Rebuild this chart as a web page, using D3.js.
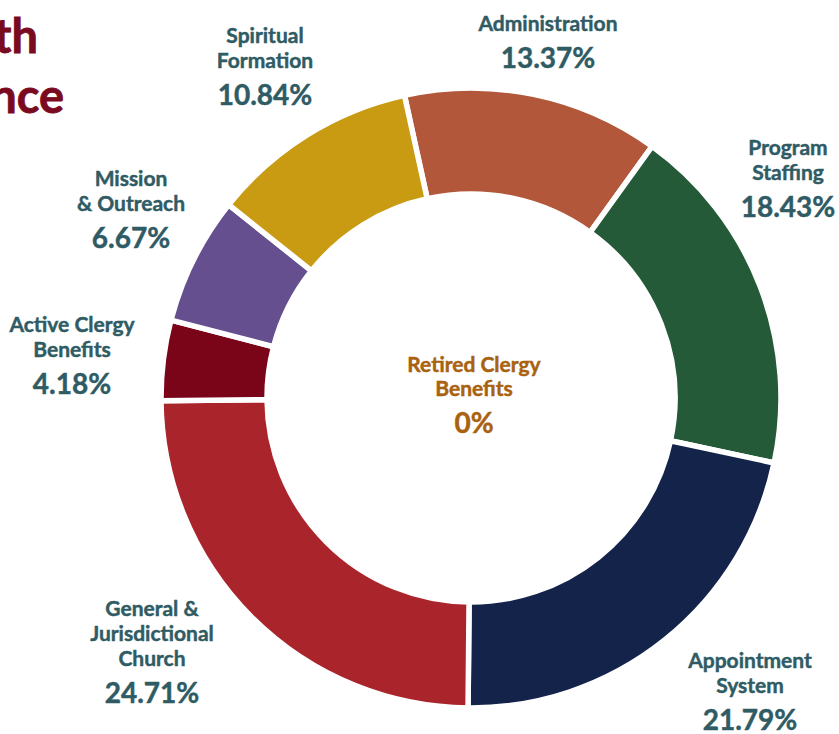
<!DOCTYPE html>
<html lang="en-US">
<head>
  <meta charset="UTF-8"/>
  <title>Budget share donut</title>
  <style>
    body { margin: 0; background: #fff; }
    svg text { font-family: Lato, "Open Sans", sans-serif; font-weight: 700; }
  </style>
</head>
<body>
<script src="https://cdn.jsdelivr.net/npm/d3@7"></script>
<script>

// data
var categories = ["Administration", "Program Staffing", "Appointment System",
                  "General & Jurisdictional Church", "Active Clergy Benefits",
                  "Mission & Outreach", "Spiritual Formation"];
var values     = [13.37, 18.43, 21.79, 24.71, 4.18, 6.67, 10.84];
var labelLines = [["Administration"], ["Program", "Staffing"], ["Appointment", "System"],
                  ["General &", "Jurisdictional", "Church"], ["Active Clergy", "Benefits"],
                  ["Mission", "& Outreach"], ["Spiritual", "Formation"]];
var colors     = ["#b3573a", "#245a37", "#14234a", "#aa242b", "#7a0519", "#654f8f", "#c99b13"];

// center note (zero share slice)
var centerLines = ["Retired Clergy", "Benefits"];
var centerValue = 0;

// label anchor positions (center x, first baseline y)
var labelPos = [[548, 31], [788, 155], [750, 668], [152, 616], [72, 332], [131, 186], [265, 43]];

var width = 839, height = 734;
var cx = 471, cy = 398, rOuter = 310, rInner = 204;
var startA = -12.4 * Math.PI / 180;

var svg = d3.select("body").append("svg")
    .attr("width", width)
    .attr("height", height);

// cut-off title on the left
svg.append("text").attr("x", 38).attr("y", 53).attr("text-anchor", "end")
   .attr("fill", "#7a0a20").attr("stroke", "#7a0a20").attr("stroke-width", 0.8)
   .style("font-size", "47px").text("th");
svg.append("text").attr("x", 64).attr("y", 113).attr("text-anchor", "end")
   .attr("fill", "#7a0a20").attr("stroke", "#7a0a20").attr("stroke-width", 0.8)
   .style("font-size", "47px").text("nce");

var pie = d3.pie().sort(null)
    .startAngle(startA).endAngle(startA + 2 * Math.PI)
    .value(function(d) { return d; });

var arc = d3.arc().innerRadius(rInner).outerRadius(rOuter);

var g = svg.append("g").attr("transform", "translate(" + cx + "," + cy + ")");

g.selectAll("path")
    .data(pie(values))
    .enter().append("path")
    .attr("d", arc)
    .attr("fill", function(d, i) { return colors[i]; })
    .attr("stroke", "#fff")
    .attr("stroke-width", 5.5);

// slice labels
var fmt = function(v) { return v + "%"; };
var lab = svg.append("g").attr("fill", "#2f5b64").attr("stroke", "#2f5b64")
    .attr("stroke-width", 0.45).attr("text-anchor", "middle");

labelLines.forEach(function(lines, i) {
  var x = labelPos[i][0], y = labelPos[i][1];
  lines.forEach(function(t, j) {
    lab.append("text").attr("x", x).attr("y", y + j * 25)
       .style("font-size", "21px").text(t);
  });
  lab.append("text").attr("x", x).attr("y", y + (lines.length - 1) * 25 + 37)
     .style("font-size", "28px").text(fmt(values[i]));
});

// center label
var cl = svg.append("g").attr("fill", "#a9620f").attr("stroke", "#a9620f")
    .attr("stroke-width", 0.45).attr("text-anchor", "middle");
centerLines.forEach(function(t, j) {
  cl.append("text").attr("x", 474).attr("y", 372 + j * 24)
    .style("font-size", "21px").text(t);
});
cl.append("text").attr("x", 474).attr("y", 433)
  .style("font-size", "28px").text(fmt(centerValue));

</script>
</body>
</html>
